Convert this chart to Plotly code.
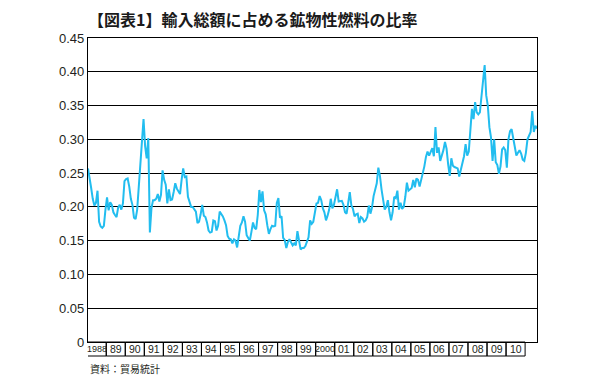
import plotly.graph_objects as go

title_text = "【図表1】輸入総額に占める鉱物性燃料の比率"
source_text = "資料：貿易統計"

year_labels = ["1988", "89", "90", "91", "92", "93", "94", "95", "96", "97", "98", "99",
               "2000", "01", "02", "03", "04", "05", "06", "07", "08", "09", "10"]

y_tick_vals = [0, 0.05, 0.10, 0.15, 0.20, 0.25, 0.30, 0.35, 0.40, 0.45]
y_tick_text = ["0", "0.05", "0.10", "0.15", "0.20", "0.25", "0.30", "0.35", "0.40", "0.45"]

# monthly ratio, Jan 1988 - 1999
ratio_1988_1999 = [
    0.257, 0.245, 0.228, 0.212, 0.202, 0.206, 0.224, 0.178, 0.171, 0.169,
    0.172, 0.196, 0.214, 0.195, 0.207, 0.203, 0.192, 0.188, 0.185, 0.199,
    0.203, 0.196, 0.205, 0.238, 0.241, 0.242, 0.230, 0.212, 0.203, 0.184,
    0.182, 0.196, 0.232, 0.262, 0.305, 0.330, 0.290, 0.272, 0.302, 0.162,
    0.198, 0.210, 0.210, 0.212, 0.219, 0.208, 0.218, 0.254, 0.240, 0.233,
    0.205, 0.226, 0.210, 0.211, 0.222, 0.235, 0.227, 0.222, 0.219, 0.240,
    0.257, 0.244, 0.245, 0.215, 0.208, 0.200, 0.200, 0.197, 0.193, 0.176,
    0.178, 0.189, 0.203, 0.187, 0.185, 0.177, 0.165, 0.162, 0.163, 0.180,
    0.179, 0.165, 0.172, 0.193, 0.190, 0.186, 0.180, 0.173, 0.157, 0.153,
    0.152, 0.146, 0.152, 0.150, 0.140, 0.160, 0.172, 0.177, 0.186, 0.178,
    0.158, 0.154, 0.150, 0.163, 0.177, 0.169, 0.167, 0.188, 0.225, 0.207,
    0.223, 0.195, 0.189, 0.173, 0.160, 0.167, 0.172, 0.171, 0.172, 0.206,
    0.213, 0.184, 0.186, 0.154, 0.151, 0.139, 0.148, 0.152, 0.147, 0.143,
    0.146, 0.143, 0.164, 0.147, 0.137, 0.139, 0.139, 0.142, 0.150, 0.155,
    0.180, 0.175,
]
# monthly ratio, 2000 - 2011
ratio_2000_2011 = [
    0.178, 0.192, 0.205, 0.206, 0.216, 0.210, 0.198, 0.192,
    0.180, 0.187, 0.196, 0.212, 0.198, 0.203, 0.215, 0.226, 0.208, 0.208,
    0.209, 0.203, 0.192, 0.190, 0.205, 0.222, 0.202, 0.197, 0.186, 0.189,
    0.190, 0.176, 0.185, 0.183, 0.178, 0.180, 0.185, 0.202, 0.190, 0.199,
    0.216, 0.228, 0.235, 0.258, 0.246, 0.226, 0.212, 0.196, 0.200, 0.210,
    0.192, 0.180, 0.192, 0.215, 0.213, 0.224, 0.196, 0.206, 0.197, 0.200,
    0.215, 0.236, 0.224, 0.226, 0.228, 0.240, 0.229, 0.242, 0.240, 0.230,
    0.240, 0.248, 0.260, 0.274, 0.282, 0.276, 0.283, 0.287, 0.275, 0.318,
    0.280, 0.288, 0.268, 0.276, 0.284, 0.296, 0.286, 0.263, 0.246, 0.272,
    0.261, 0.259, 0.258, 0.257, 0.245, 0.254, 0.262, 0.275, 0.293, 0.276,
    0.282, 0.310, 0.345, 0.330, 0.355, 0.340, 0.337, 0.340, 0.362, 0.385,
    0.410, 0.365, 0.350, 0.318, 0.303, 0.268, 0.300, 0.266, 0.262, 0.249,
    0.260, 0.285, 0.288, 0.284, 0.258, 0.300, 0.312, 0.315, 0.301, 0.290,
    0.276, 0.280, 0.284, 0.279, 0.270, 0.268, 0.280, 0.300, 0.306, 0.311,
    0.342, 0.311, 0.320, 0.316,
]

ratio = ratio_1988_1999 + ratio_2000_2011
months = list(range(len(ratio)))

fig = go.Figure()
fig.add_trace(go.Scatter(
    x=months, y=ratio, mode="lines",
    line=dict(color="#22BDEF", width=2),
    hoverinfo="skip", showlegend=False,
))

tick_font = dict(family="Liberation Sans, Arial, sans-serif", size=13, color="#231F20")

# page body has an 8px default margin, so margins are compensated by 8px
fig.update_layout(
    width=600, height=378,
    margin=dict(l=80, r=71, t=30, b=44, autoexpand=False),
    paper_bgcolor="white", plot_bgcolor="white",
    xaxis=dict(
        range=[0, len(ratio) - 1], showgrid=False, zeroline=False, automargin=False,
        showticklabels=False, ticks="",
        showline=True, linecolor="black", linewidth=1.3, mirror=True,
    ),
    yaxis=dict(
        range=[0, 0.45], tickvals=y_tick_vals, ticktext=y_tick_text, automargin=False,
        showgrid=True, gridcolor="black", gridwidth=1.3, zeroline=False,
        showline=True, linecolor="black", linewidth=1.3, mirror=True,
        ticks="", tickfont=tick_font,
    ),
)

# year label cells beneath the axis
cell_h = -14 / 304
shapes = []
annotations = []
for i, lab in enumerate(year_labels):
    x0 = i * 12 - 0.5
    x1 = i * 12 + 11.5
    shapes.append(dict(type="rect", xref="x", yref="paper", x0=x0, x1=x1, y0=0, y1=cell_h,
                       line=dict(color="black", width=1), fillcolor="rgba(0,0,0,0)"))
    small = len(lab) == 4
    annotations.append(dict(
        x=(x0 + x1) / 2, y=cell_h / 2, xref="x", yref="paper", text=lab, showarrow=False,
        xanchor="center", yanchor="middle",
        font=dict(family="Liberation Sans Narrow, Liberation Sans, Arial, sans-serif" if small
                  else "Liberation Sans, Arial, sans-serif",
                  size=9 if small else 10.5, color="#231F20"),
    ))

annotations.append(dict(
    x=0.0, y=1.0, xref="paper", yref="paper", text=title_text, showarrow=False,
    xanchor="left", yanchor="middle", yshift=19, xshift=-2,
    font=dict(family="Noto Sans CJK JP", size=16, color="#1A1A1A", weight="bold"),
))
annotations.append(dict(
    x=0.0, y=cell_h, xref="paper", yref="paper", text=source_text, showarrow=False,
    xanchor="left", yanchor="top", yshift=-3,
    font=dict(family="Noto Sans CJK JP", size=10, color="#231F20"),
))

fig.update_layout(shapes=shapes, annotations=annotations)
fig.write_html("out.html")
